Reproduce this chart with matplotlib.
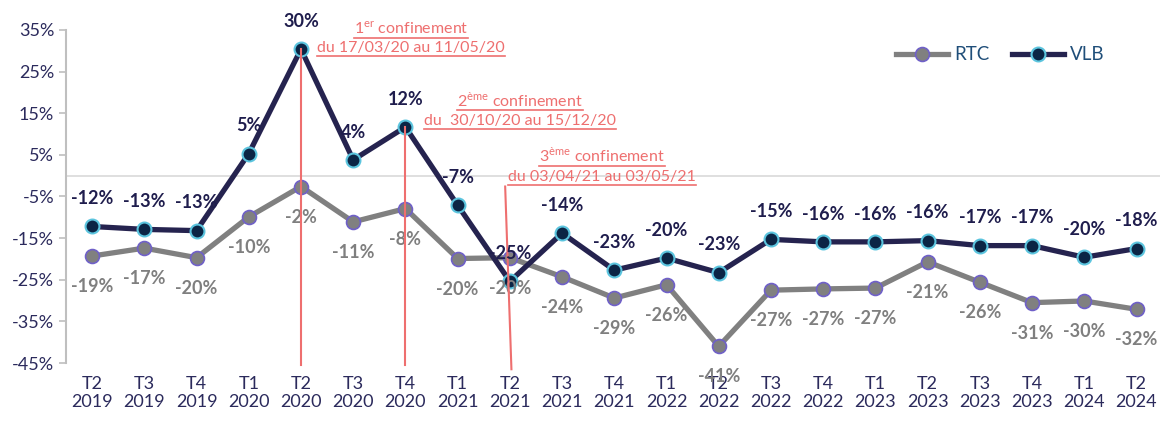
import matplotlib
matplotlib.use("Agg")
import matplotlib.pyplot as plt
from matplotlib.lines import Line2D

plt.rcParams['font.family'] = ['Lato', 'DejaVu Sans']
plt.rcParams['mathtext.fontset'] = 'custom'
plt.rcParams['mathtext.rm'] = 'Lato'

# données
trimestres = ["T2\n2019", "T3\n2019", "T4\n2019", "T1\n2020", "T2\n2020", "T3\n2020", "T4\n2020",
              "T1\n2021", "T2\n2021", "T3\n2021", "T4\n2021", "T1\n2022", "T2\n2022", "T3\n2022",
              "T4\n2022", "T1\n2023", "T2\n2023", "T3\n2023", "T4\n2023", "T1\n2024", "T2\n2024"]
vlb = [-12.2, -12.9, -13.2, 5.3, 30.4, 3.8, 11.7, -7.1, -25.4, -13.8, -22.7, -19.8, -23.3,
       -15.3, -15.9, -15.9, -15.6, -16.8, -16.8, -19.6, -17.5]
rtc = [-19.3, -17.4, -19.7, -9.9, -2.6, -11.1, -7.9, -19.9, -19.7, -24.3, -29.4, -26.2, -41.0,
       -27.5, -27.2, -27.0, -20.7, -25.6, -30.5, -30.1, -32.1]
vlb_labels = ["-12%", "-13%", "-13%", "5%", "30%", "4%", "12%", "-7%", "-25%", "-14%", "-23%",
              "-20%", "-23%", "-15%", "-16%", "-16%", "-16%", "-17%", "-17%", "-20%", "-18%"]
rtc_labels = ["-19%", "-17%", "-20%", "-10%", "-2%", "-11%", "-8%", "-20%", "-20%", "-24%", "-29%",
              "-26%", "-41%", "-27%", "-27%", "-27%", "-21%", "-26%", "-31%", "-30%", "-32%"]
yticks = [35, 25, 15, 5, -5, -15, -25, -35, -45]

navy = '#25234f'
grey = '#808080'
rouge = '#ee6f6f'
tick_col = '#2b2a5c'

fig = plt.figure(figsize=(11.6, 4.23), dpi=100)
ax = fig.add_axes([66 / 1160, 1 - 363 / 423, 1 - 66 / 1160, (363 - 30) / 423])
x = list(range(len(trimestres)))

ax.axhline(0, color='#d9d9d9', lw=1.2, zorder=1)

ax.plot(x, rtc, color=grey, lw=3.8, marker='o', ms=10, mfc=grey, mec='#6f60c8', mew=1.2,
        zorder=3, label='RTC')
ax.plot(x, vlb, color=navy, lw=3.8, marker='o', ms=10, mfc='#0b2545', mec='#5bc4de', mew=1.5,
        zorder=4, label='VLB')

for i in x:
    ax.annotate(vlb_labels[i], (i, vlb[i]), xytext=(0, 20), textcoords='offset points',
                ha='center', va='center', fontsize=13, fontweight='bold', color='#1f1d4d', zorder=6)
    ax.annotate(rtc_labels[i], (i, rtc[i]), xytext=(0, -22), textcoords='offset points',
                ha='center', va='center', fontsize=13, fontweight='bold', color='#7f7f7f', zorder=5)

# lignes des confinements
ax.plot([4, 4], [vlb[4], -45.5], color=rouge, lw=1.5, zorder=5, clip_on=False)
ax.plot([6, 6], [vlb[6], -45.5], color=rouge, lw=1.5, zorder=5, clip_on=False)
ax.plot([7.91, 8.03], [-2.6, -46.5], color=rouge, lw=1.5, zorder=5, clip_on=False)

notes = [
    (6.11, 35.4, "1$^{\\mathrm{er}}$ confinement"),
    (6.11, 30.6, "du 17/03/20 au 11/05/20"),
    (8.2, 18.2, "2$^{\\mathrm{\u00e8me}}$ confinement "),
    (8.2, 13.2, "du  30/10/20 au 15/12/20"),
    (9.77, 4.8, "3$^{\\mathrm{\u00e8me}}$ confinement "),
    (9.77, -0.2, "du 03/04/21 au 03/05/21"),
]
textes = []
for nx, ny, t in notes:
    textes.append(ax.text(nx, ny, t, ha='center', va='center', fontsize=11.5, color=rouge,
                          clip_on=False, zorder=7))

ax.set_xlim(-0.5, 20.45)
ax.set_ylim(-45, 35)
ax.set_yticks(yticks)
ax.set_yticklabels([f"{v}%" for v in yticks])
ax.set_xticks(x)
ax.set_xticklabels(trimestres)
ax.tick_params(axis='y', colors='#bfbfbf', labelcolor=tick_col, labelsize=13, length=5, width=1.2)
ax.tick_params(axis='x', length=0, labelcolor=tick_col, labelsize=13, pad=9)
for s in ['top', 'right', 'bottom']:
    ax.spines[s].set_visible(False)
ax.spines['left'].set_color('#bfbfbf')
ax.spines['left'].set_linewidth(1.5)

leg = fig.legend(loc='center', bbox_to_anchor=(1000 / 1160, 1 - 55 / 423), ncol=2, frameon=False,
                 fontsize=13.5, handlelength=2.8, columnspacing=1.2, handletextpad=0.3)
for t in leg.get_texts():
    t.set_color('#1f4e79')

# soulignement des annotations
fig.canvas.draw()
r = fig.canvas.get_renderer()
for t in textes:
    bb = t.get_window_extent(renderer=r)
    y0 = (bb.y0 - 1) / fig.bbox.height
    fig.add_artist(Line2D([bb.x0 / fig.bbox.width, bb.x1 / fig.bbox.width], [y0, y0],
                          color=rouge, lw=1.2))

fig.savefig("out.png", dpi=100)
